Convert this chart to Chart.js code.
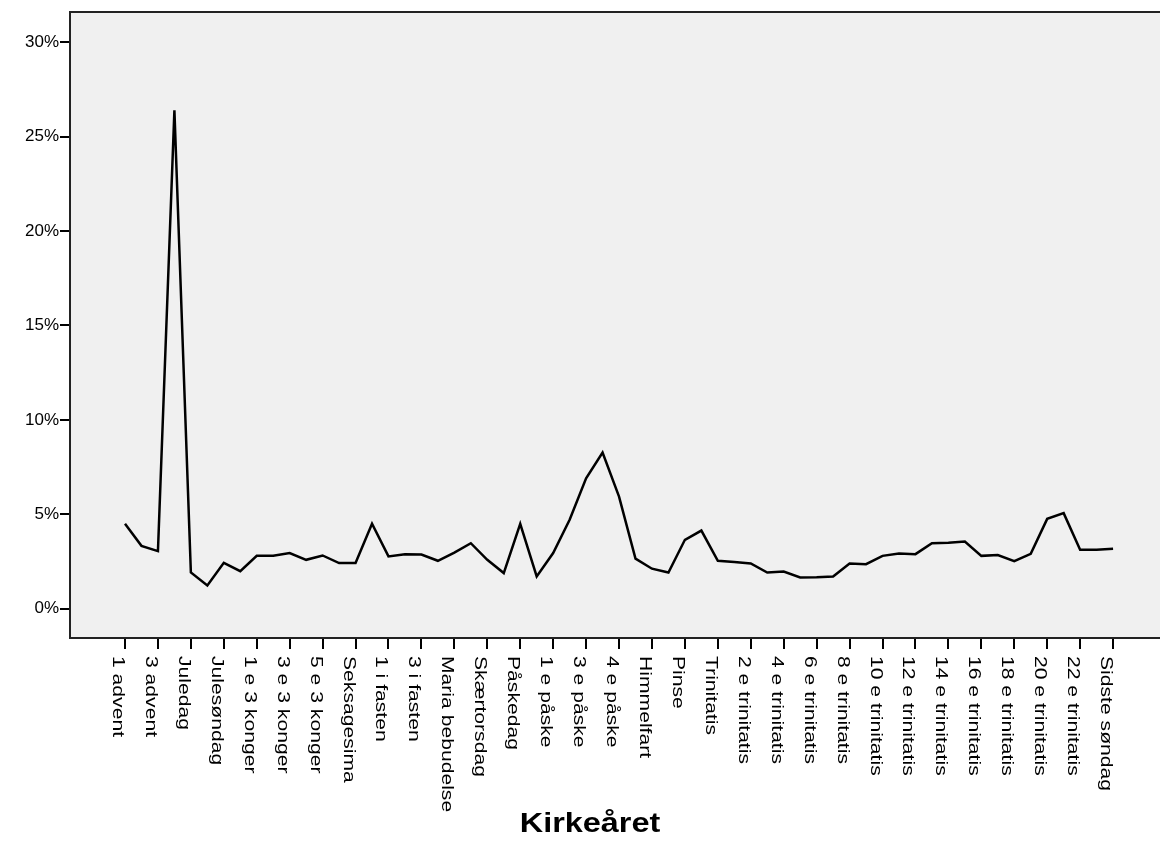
<!DOCTYPE html>
<html>
<head>
<meta charset="utf-8">
<script src="https://cdn.jsdelivr.net/npm/chart.js@4.4.1/dist/chart.umd.min.js"></script>
<style>
  html, body { margin: 0; padding: 0; background: #fff; }
  #wrap { width: 1160px; height: 859px; }
</style>
</head>
<body>
<div id="wrap"><canvas id="kirke" width="1160" height="859"></canvas></div>
<script>
let kirkeaaret = ["1 advent", "2 advent", "3 advent", "Juleaften", "Juledag", "2 juledag", "Julesøndag", "Nytårsdag",
  "1 e 3 konger", "2 e 3 konger", "3 e 3 konger", "4 e 3 konger", "5 e 3 konger", "Septuagesima", "Seksagesima",
  "Fastelavn", "1 i fasten", "2 i fasten", "3 i fasten", "Midfaste", "Maria bebudelse", "Palmesøndag",
  "Skærtorsdag", "Langfredag", "Påskedag", "2 påskedag", "1 e påske", "2 e påske", "3 e påske", "Bededag",
  "4 e påske", "5 e påske", "Himmelfart", "6 e påske", "Pinse", "2 pinsedag", "Trinitatis",
  "1 e trinitatis", "2 e trinitatis", "3 e trinitatis", "4 e trinitatis", "5 e trinitatis", "6 e trinitatis",
  "7 e trinitatis", "8 e trinitatis", "9 e trinitatis", "10 e trinitatis", "11 e trinitatis", "12 e trinitatis",
  "13 e trinitatis", "14 e trinitatis", "15 e trinitatis", "16 e trinitatis", "17 e trinitatis", "18 e trinitatis",
  "19 e trinitatis", "20 e trinitatis", "21 e trinitatis", "22 e trinitatis", "23 e trinitatis", "Sidste søndag"]
let andel = [4.50, 3.33, 3.05, 26.4, 1.92, 1.23, 2.43, 1.99, 2.80, 2.80,
  2.95, 2.59, 2.82, 2.42, 2.42, 4.50, 2.77, 2.89, 2.87, 2.54,
  2.97, 3.47, 2.59, 1.89, 4.50, 1.71, 2.95, 4.71, 6.91, 8.27,
  5.94, 2.65, 2.12, 1.92, 3.65, 4.14, 2.54, 2.47, 2.40, 1.92,
  1.97, 1.66, 1.67, 1.71, 2.40, 2.36, 2.80, 2.93, 2.89, 3.47,
  3.49, 3.56, 2.80, 2.84, 2.52, 2.91, 4.76, 5.06, 3.12, 3.12, 3.17]
let y_ticks = [0, 5, 10, 15, 20, 25, 30]
let label_step = 2

// hver anden kategori får en etiket
let x_vis = kirkeaaret.map((k, i) => i).filter(i => i % label_step === 0)
let punkter = andel.map((v, i) => ({x: i, y: v}))

const FONT = '"Liberation Sans", Arial, sans-serif'

const ramme = {
  id: 'ramme',
  beforeDraw(chart) {
    const {ctx, chartArea: a} = chart
    ctx.save()
    ctx.fillStyle = '#f0f0f0'
    ctx.fillRect(a.left, a.top, a.right - a.left, a.bottom - a.top)
    ctx.restore()
  },
  afterDraw(chart) {
    const {ctx, chartArea: a} = chart
    const x = chart.scales.x
    ctx.save()
    ctx.strokeStyle = '#222'
    ctx.lineWidth = 2
    ctx.beginPath()
    ctx.moveTo(a.left - 1, a.top)
    ctx.lineTo(a.right, a.top)
    ctx.stroke()

    // lodrette etiketter, læses oppefra og ned
    ctx.fillStyle = '#000'
    ctx.font = '16.5px ' + FONT
    ctx.textAlign = 'left'
    ctx.textBaseline = 'alphabetic'
    x.ticks.forEach(t => {
      const px = x.getPixelForValue(t.value)
      ctx.save()
      ctx.translate(px, a.bottom + 18)
      ctx.scale(1, 1.28)
      ctx.rotate(Math.PI / 2)
      ctx.fillText(kirkeaaret[t.value], 0, 12)
      ctx.restore()
    })

    ctx.font = 'bold 27px ' + FONT
    ctx.textAlign = 'center'
    ctx.translate(590, 832)
    ctx.scale(1.2, 1)
    ctx.fillText('Kirkeåret', 0, 0)
    ctx.restore()
  }
}

var ctx = document.getElementById('kirke').getContext('2d')

var chart = new Chart(ctx, {
  type: 'line',
  data: {
    datasets: [{
      label: 'Andel',
      data: punkter,
      borderColor: '#000',
      borderWidth: 2.5,
      pointRadius: 0,
      tension: 0,
      fill: false,
    }]
  },
  options: {
    responsive: false,
    animation: false,
    layout: { padding: { top: 12, left: 0, right: 0, bottom: 0 } },
    plugins: {
      legend: { display: false },
      tooltip: { enabled: false },
    },
    scales: {
      x: {
        type: 'linear',
        min: -3.34,
        max: 62.85,
        afterBuildTicks: s => { s.ticks = x_vis.map(v => ({value: v})) },
        afterFit: s => { s.height = 221 },
        ticks: { display: false },
        grid: { drawOnChartArea: false, drawTicks: true, tickLength: 11, color: '#000', lineWidth: 2 },
        border: { display: true, color: '#222', width: 2 },
      },
      y: {
        min: -1.55,
        max: 31.6,
        afterBuildTicks: s => { s.ticks = y_ticks.map(v => ({value: v})) },
        afterFit: s => { s.width = 70 },
        ticks: {
          callback: v => v + '%',
          color: '#000',
          font: { family: FONT, size: 17 },
          padding: 1,
        },
        grid: { drawOnChartArea: false, drawTicks: true, tickLength: 10, color: '#000', lineWidth: 2 },
        border: { display: true, color: '#222', width: 2 },
      }
    }
  },
  plugins: [ramme]
})
</script>
</body>
</html>
